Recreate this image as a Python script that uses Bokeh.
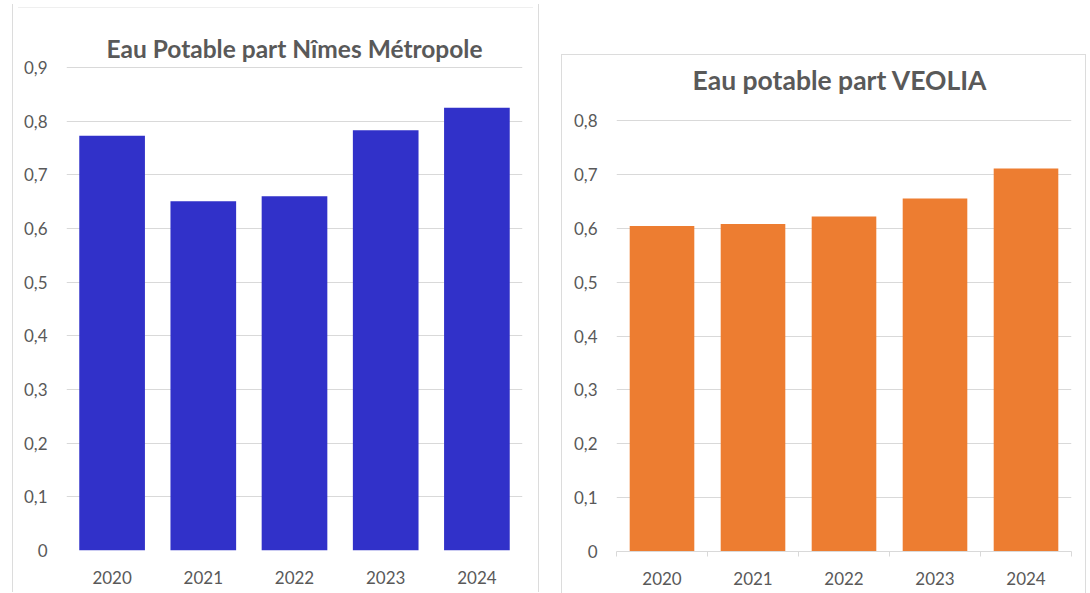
from bokeh.plotting import figure
from bokeh.models import Range1d, FixedTicker, Label
from bokeh.layouts import row
from bokeh.embed import file_html
from bokeh.resources import INLINE

# ---- data ----
years = ["2020", "2021", "2022", "2023", "2024"]
nimes_values = [0.773, 0.651, 0.660, 0.783, 0.825]
veolia_values = [0.604, 0.608, 0.622, 0.655, 0.711]

nimes_ticks = [0, 0.1, 0.2, 0.3, 0.4, 0.5, 0.6, 0.7, 0.8, 0.9]
nimes_tick_labels = ["0", "0,1", "0,2", "0,3", "0,4", "0,5", "0,6", "0,7", "0,8", "0,9"]
veolia_ticks = [0, 0.1, 0.2, 0.3, 0.4, 0.5, 0.6, 0.7, 0.8]
veolia_tick_labels = ["0", "0,1", "0,2", "0,3", "0,4", "0,5", "0,6", "0,7", "0,8"]

nimes_title = "Eau Potable part Nîmes Métropole"
veolia_title = "Eau potable part VEOLIA"

TEXT = "#595959"
GRID = "#d9d9d9"
FONT = "Lato"


def make_chart(title, values, color, yticks, ylabels, width, plot_px, head_px,
               mb_left, mb_right, mb_top, mb_bottom, title_size, title_up, title_dx,
               bar_width, boundary_ticks, x_standoff, margin, box_style):
    n = len(years)
    centers = [i + 0.5 for i in range(n)]
    top_tick = yticks[-1]
    # frame extends head_px pixels above the top gridline, leaving room for the title
    y_end = top_tick * (plot_px + head_px) / plot_px
    height = mb_top + head_px + plot_px + mb_bottom
    p = figure(width=width, height=height,
               x_range=Range1d(0, n), y_range=Range1d(0, y_end),
               output_backend="svg", toolbar_location=None,
               min_border_left=mb_left, min_border_right=mb_right,
               min_border_top=mb_top, min_border_bottom=mb_bottom,
               margin=margin)
    p.vbar(x=centers, top=values, width=bar_width, fill_color=color, line_color=None)

    p.add_layout(Label(x=n / 2, y=top_tick, text=title,
                       x_offset=title_dx, y_offset=title_up,
                       text_align="center", text_baseline="alphabetic",
                       text_font=FONT, text_font_style="bold",
                       text_font_size=title_size, text_color=TEXT))

    p.outline_line_color = None
    p.border_fill_color = None
    p.xgrid.visible = False
    p.ygrid.grid_line_color = GRID
    p.ygrid.grid_line_width = 1

    yax = p.yaxis[0]
    yax.ticker = FixedTicker(ticks=yticks)
    yax.major_label_overrides = dict(zip(yticks, ylabels))
    yax.axis_line_color = None
    yax.major_tick_line_color = None
    yax.minor_tick_line_color = None
    yax.major_tick_out = 0
    yax.major_label_standoff = 19
    yax.major_label_text_font = FONT
    yax.major_label_text_font_size = "17px"
    yax.major_label_text_color = TEXT

    xax = p.xaxis[0]
    if boundary_ticks:
        xax.ticker = FixedTicker(ticks=centers, minor_ticks=list(range(n + 1)))
        xax.axis_line_color = GRID
        xax.minor_tick_line_color = GRID
        xax.minor_tick_out = 5
        xax.minor_tick_in = 0
    else:
        xax.ticker = FixedTicker(ticks=centers)
        xax.axis_line_color = None
        xax.minor_tick_line_color = None
    xax.major_label_overrides = dict(zip(centers, years))
    xax.major_tick_line_color = None
    xax.major_tick_out = 0
    xax.major_label_standoff = x_standoff
    xax.major_label_text_font = FONT
    xax.major_label_text_font_size = "17px"
    xax.major_label_text_color = TEXT

    p.styles = box_style
    return p


left_box = {"background":
            "linear-gradient(#dcdcdc,#dcdcdc) 0 3px / 1px 100% no-repeat, "
            "linear-gradient(#dcdcdc,#dcdcdc) 100% 3px / 1px 100% no-repeat, "
            "linear-gradient(#efefef,#efefef) 6px 6px / calc(100% - 12px) 1px no-repeat"}
right_box = {"box-shadow": "inset 1px 1px 0 #dcdcdc, inset -1px 0 0 #dcdcdc"}

left = make_chart(nimes_title, nimes_values, "#3131C9", nimes_ticks, nimes_tick_labels,
                  width=527, plot_px=483, head_px=56,
                  mb_left=54, mb_right=17, mb_top=10, mb_bottom=42,
                  title_size="24.5px", title_up=19, title_dx=0,
                  bar_width=0.72, boundary_ticks=False, x_standoff=20,
                  margin=(1, 0, 0, 12), box_style=left_box)
right = make_chart(veolia_title, veolia_values, "#ED7D31", veolia_ticks, veolia_tick_labels,
                   width=525, plot_px=431, head_px=56,
                   mb_left=55, mb_right=15, mb_top=10, mb_bottom=42,
                   title_size="26.5px", title_up=41, title_dx=-4,
                   bar_width=0.71, boundary_ticks=True, x_standoff=15,
                   margin=(54, 0, 0, 22), box_style=right_box)

layout = row(left, right)
open("out.html", "w").write(file_html(layout, INLINE))
